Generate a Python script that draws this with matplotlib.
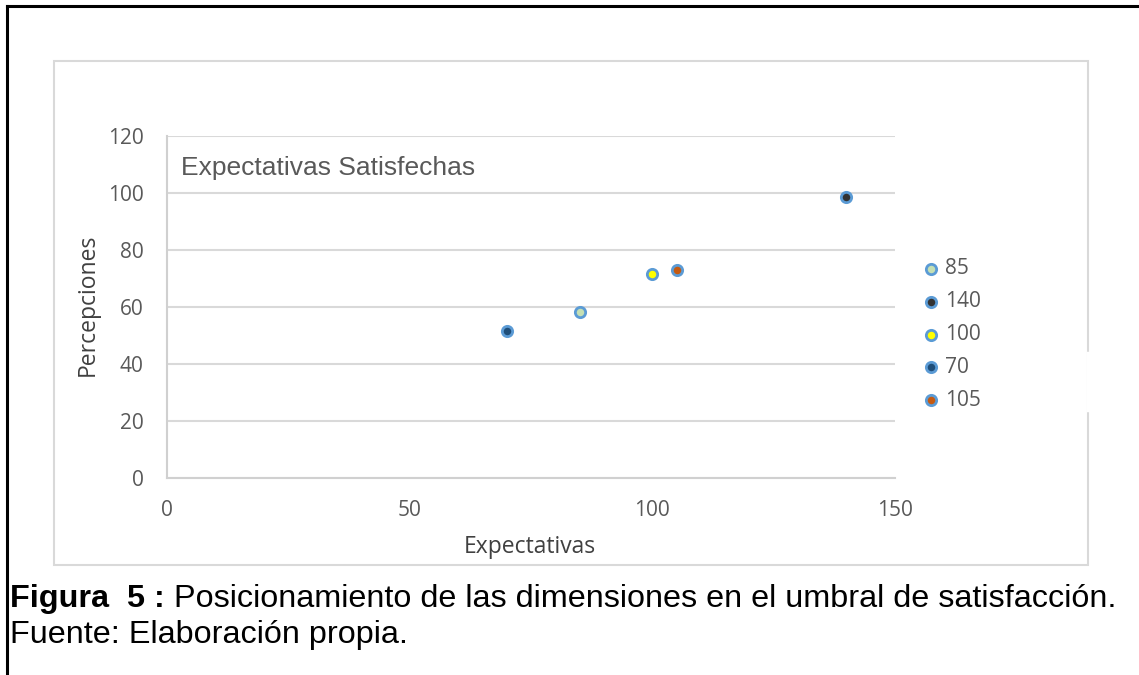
import matplotlib
matplotlib.use("Agg")
import matplotlib.pyplot as plt
from matplotlib.patches import Rectangle
from matplotlib.lines import Line2D

# Data
series_names = ["85", "140", "100", "70", "105"]
expectativas = [85, 140, 100, 70, 105]
percepciones = [58.0, 98.5, 71.5, 51.4, 73.0]
fill_colors = ["#c5e0b4", "#333333", "#ffff00", "#1f4e79", "#c55a11"]
edge_color = "#5b9bd5"
y_ticks = [0, 20, 40, 60, 80, 100, 120]
x_ticks = [0, 50, 100, 150]

W, H = 1139, 675
fig = plt.figure(figsize=(W / 100, H / 100), dpi=100)

# Outer black frame (top and left)
fig.add_artist(Line2D([7 / W, 7 / W], [0, 1 - 6 / H], transform=fig.transFigure, color="black", lw=2.2))
fig.add_artist(Line2D([7 / W, 1], [1 - 6 / H, 1 - 6 / H], transform=fig.transFigure, color="black", lw=2.2))

# Inner chart frame
fig.add_artist(Rectangle((54 / W, 1 - 565 / H), (1088 - 54) / W, (565 - 61) / H,
                         transform=fig.transFigure, fill=False, edgecolor="#d9d9d9", lw=1.5))
fig.add_artist(Line2D([1088 / W, 1088 / W], [1 - 353 / H, 1 - 410 / H], transform=fig.transFigure,
                      color="white", lw=2.5))

ax = fig.add_axes([167 / W, 1 - 477.6 / H, (895 - 167) / W, (477.6 - 136) / H])
ax.set_xlim(0, 150)
ax.set_ylim(0, 120)
ax.set_xticks(x_ticks)
ax.set_yticks(y_ticks)
ax.grid(axis="y", color="#d9d9d9", lw=1.5)
ax.set_axisbelow(True)
for s in ["top", "right"]:
    ax.spines[s].set_visible(False)
for s in ["left", "bottom"]:
    ax.spines[s].set_color("#d0d0d0")
    ax.spines[s].set_linewidth(1.5)
ax.tick_params(axis="y", length=0, labelsize=15, colors="#595959", pad=17)
ax.tick_params(axis="x", length=0, labelsize=15, colors="#595959", pad=16)
for lab in ax.get_xticklabels() + ax.get_yticklabels():
    lab.set_family("Open Sans")

handles = []
for x, y, c, n in zip(expectativas, percepciones, fill_colors, series_names):
    h = ax.scatter([x], [y], s=55, c=c, edgecolors=edge_color, linewidths=2, zorder=3, label=n)
    handles.append(h)

leg = ax.legend(handles=handles, loc="upper left", bbox_to_anchor=(910 / W, 1 - 250 / H),
                bbox_transform=fig.transFigure, frameon=False, handletextpad=0.1,
                labelspacing=0.57, prop={"family": "Open Sans", "size": 15}, borderaxespad=0,
                handlelength=1.2)
for t in leg.get_texts():
    t.set_color("#595959")

ax.set_ylabel("Percepciones", family="Open Sans", fontsize=16.5, color="#404040")
ax.yaxis.set_label_coords(100 / W, 1 - 305 / H, transform=fig.transFigure)
ax.set_xlabel("Expectativas", family="Open Sans", fontsize=16.5, color="#404040")
ax.xaxis.set_label_coords(530 / W, 1 - 535 / H, transform=fig.transFigure)

ax.text(181 / W, 1 - 168 / H, "Expectativas Satisfechas", transform=fig.transFigure,
        family="Liberation Sans", fontsize=19, color="#595959", va="center", ha="left")

cap_size = 23.3
t1 = fig.text(10 / W, 1 - 599 / H, "Figura  5 :", family="Liberation Sans", fontweight="bold",
              fontsize=cap_size, va="center", ha="left")
plt.annotate(" Posicionamiento de las dimensiones en el umbral de satisfacción.",
             xy=(1, 0), xycoords=t1, va="bottom", ha="left",
             family="Liberation Sans", fontsize=cap_size, annotation_clip=False)
fig.text(10 / W, 1 - 635 / H, "Fuente: Elaboración propia.", family="Liberation Sans",
         fontsize=cap_size, va="center", ha="left")
fig.savefig("out.png", dpi=100)
